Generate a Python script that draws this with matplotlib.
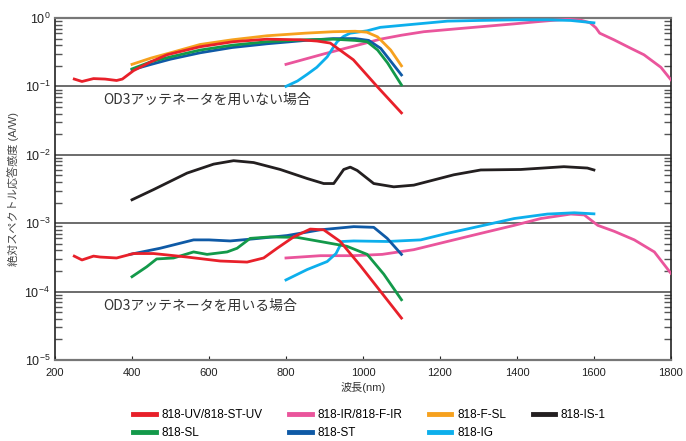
import matplotlib
matplotlib.use("Agg")
import matplotlib.pyplot as plt
from matplotlib.lines import Line2D
from matplotlib.ticker import LogLocator, NullFormatter

plt.rcParams['font.family'] = ['Liberation Sans', 'Noto Sans CJK JP', 'DejaVu Sans']
plt.rcParams['mathtext.default'] = 'regular'

# ---- data: without OD3 attenuator (A/W) ----
uv_x = [250, 270, 300, 330, 360, 375, 404, 450, 491, 577, 663, 751, 837, 881, 915, 975, 1038, 1100]
uv_y = [0.128, 0.118, 0.13, 0.128, 0.122, 0.128, 0.17, 0.23, 0.29, 0.38, 0.45, 0.49, 0.48, 0.46, 0.43, 0.245, 0.098, 0.041]

fsl_x = [400, 450, 500, 577, 660, 751, 850, 923, 980, 1010, 1038, 1072, 1100]
fsl_y = [0.21, 0.26, 0.31, 0.41, 0.48, 0.55, 0.60, 0.63, 0.64, 0.62, 0.53, 0.34, 0.20]

sl_x = [400, 450, 500, 577, 660, 751, 850, 923, 980, 1011, 1038, 1064, 1100]
sl_y = [0.18, 0.23, 0.27, 0.34, 0.40, 0.45, 0.48, 0.49, 0.47, 0.45, 0.34, 0.22, 0.105]

st_x = [400, 450, 500, 577, 660, 751, 850, 923, 980, 1015, 1046, 1100]
st_y = [0.175, 0.21, 0.25, 0.31, 0.37, 0.42, 0.47, 0.50, 0.50, 0.47, 0.36, 0.147]

ir_x = [800, 900, 1000, 1045, 1100, 1158, 1250, 1300, 1392, 1450, 1500, 1532, 1566, 1590, 1605, 1615, 1652, 1696, 1730, 1774, 1800]
ir_y = [0.21, 0.30, 0.42, 0.49, 0.56, 0.63, 0.70, 0.74, 0.82, 0.88, 0.93, 0.96, 0.93, 0.85, 0.72, 0.60, 0.48, 0.36, 0.29, 0.19, 0.125]

ig_x = [800, 830, 855, 880, 907, 920, 933, 950, 967, 1011, 1045, 1100, 1220, 1300, 1400, 1480, 1540, 1600]
ig_y = [0.10, 0.12, 0.15, 0.19, 0.27, 0.35, 0.45, 0.54, 0.60, 0.65, 0.73, 0.78, 0.90, 0.92, 0.94, 0.94, 0.92, 0.85]

is1_x = [400, 456, 543, 612, 664, 716, 785, 855, 898, 924, 937, 950, 967, 985, 1028, 1080, 1132, 1236, 1306, 1410, 1522, 1583, 1600]
is1_y = [0.0022, 0.0031, 0.0054, 0.0073, 0.0082, 0.0077, 0.0061, 0.0045, 0.0038, 0.0038, 0.0048, 0.0061, 0.0066, 0.0059, 0.0038, 0.0034, 0.0036, 0.0051, 0.0060, 0.0061, 0.0067, 0.0064, 0.0060]

# ---- data: with OD3 attenuator (A/W) ----
uv2_x = [250, 270, 300, 317, 360, 404, 456, 543, 629, 699, 742, 777, 820, 863, 898, 941, 993, 1046, 1100]
uv2_y = [3.3e-4, 2.9e-4, 3.3e-4, 3.2e-4, 3.1e-4, 3.6e-4, 3.6e-4, 3.2e-4, 2.8e-4, 2.7e-4, 3.1e-4, 4.3e-4, 6.3e-4, 8.2e-4, 8.0e-4, 5.4e-4, 2.4e-4, 1.0e-4, 4.1e-5]

st2_x = [395, 473, 560, 600, 655, 716, 803, 889, 976, 1028, 1063, 1100]
st2_y = [3.5e-4, 4.3e-4, 5.7e-4, 5.7e-4, 5.5e-4, 5.9e-4, 6.6e-4, 8.0e-4, 8.9e-4, 8.7e-4, 6.0e-4, 3.5e-4]

sl2_x = [400, 438, 464, 508, 560, 595, 647, 673, 707, 759, 829, 889, 958, 1011, 1054, 1100]
sl2_y = [1.65e-4, 2.3e-4, 3.0e-4, 3.1e-4, 3.8e-4, 3.5e-4, 3.8e-4, 4.3e-4, 6.0e-4, 6.3e-4, 6.2e-4, 5.4e-4, 4.6e-4, 3.5e-4, 1.8e-4, 7.6e-5]

ir2_x = [800, 890, 976, 1050, 1132, 1219, 1306, 1393, 1462, 1540, 1575, 1610, 1653, 1705, 1757, 1800]
ir2_y = [3.1e-4, 3.35e-4, 3.35e-4, 3.5e-4, 4.1e-4, 5.4e-4, 7.1e-4, 9.3e-4, 1.17e-3, 1.36e-3, 1.32e-3, 9.3e-4, 7.6e-4, 5.7e-4, 3.8e-4, 1.85e-4]

ig2_x = [800, 855, 907, 930, 946, 976, 1063, 1150, 1219, 1306, 1393, 1479, 1549, 1600]
ig2_y = [1.48e-4, 2.1e-4, 2.75e-4, 3.6e-4, 5.4e-4, 5.5e-4, 5.4e-4, 5.7e-4, 7.1e-4, 9.1e-4, 1.17e-3, 1.36e-3, 1.42e-3, 1.37e-3]

labels = ["818-UV/818-ST-UV", "818-IR/818-F-IR", "818-F-SL", "818-IS-1", "818-SL", "818-ST", "818-IG"]
x_ticks = [200, 400, 600, 800, 1000, 1200, 1400, 1600, 1800]

C_UV = "#e8202a"
C_IR = "#ea559c"
C_FSL = "#f6a11e"
C_IS = "#231f20"
C_SL = "#13994a"
C_ST = "#0f5aa6"
C_IG = "#0dafec"

fig = plt.figure(figsize=(6.86, 4.41), dpi=100)
ax = fig.add_axes([0.0802, 0.1837, 0.8978, 0.7755])

lw = 2.0
ax.plot(is1_x, is1_y, color=C_IS, lw=lw, zorder=3)
for xs, ys, c in [(ir_x, ir_y, C_IR), (ig_x, ig_y, C_IG), (fsl_x, fsl_y, C_FSL),
                  (st_x, st_y, C_ST), (sl_x, sl_y, C_SL), (uv_x, uv_y, C_UV),
                  (ir2_x, ir2_y, C_IR), (ig2_x, ig2_y, C_IG), (st2_x, st2_y, C_ST),
                  (sl2_x, sl2_y, C_SL), (uv2_x, uv2_y, C_UV)]:
    ax.plot(xs, ys, color=c, lw=lw, zorder=3)

ax.set_yscale('log')
ax.set_ylim(1e-5, 1)
ax.set_xlim(200, 1800)
ax.set_xticks(x_ticks)
ax.set_xticklabels([str(v) for v in x_ticks])
ax.yaxis.set_major_locator(LogLocator(base=10, numticks=10))
ax.yaxis.set_minor_locator(LogLocator(base=10, subs=range(2, 10), numticks=10))
ax.yaxis.set_minor_formatter(NullFormatter())

for y in [1e-1, 1e-2, 1e-3, 1e-4]:
    ax.axhline(y, color="#444444", lw=1.1, zorder=2)

for s in ['left', 'right']:
    ax.spines[s].set_color("#222222")
    ax.spines[s].set_linewidth(1.2)
for s in ['top', 'bottom']:
    ax.spines[s].set_color("#777777")
    ax.spines[s].set_linewidth(1.6)

ax.tick_params(axis='y', which='both', direction='in', left=True, right=True, labelsize=9, colors="#222222")
ax.tick_params(axis='y', which='major', length=0)
ax.tick_params(axis='y', which='minor', length=5, width=1.0, color="#555555")
ax.tick_params(axis='x', which='both', direction='in', length=3, labelsize=8, colors="#222222", pad=6)
ax.xaxis.set_minor_locator(plt.NullLocator())

ax.set_xlabel("波長(nm)", fontsize=8, color="#333333", labelpad=3)
ax.set_ylabel("絶対スペクトル応答感度 (A/W)", fontsize=8, color="#444444", labelpad=4)

ax.text(325, 0.063, "OD3アッテネータを用いない場合", fontsize=10, color="#333333",
        va='center', ha='left', family=['Noto Sans CJK JP', 'DejaVu Sans'], zorder=4)
ax.text(325, 6.2e-5, "OD3アッテネータを用いる場合", fontsize=10, color="#333333",
        va='center', ha='left', family=['Noto Sans CJK JP', 'DejaVu Sans'], zorder=4)

colors = [C_UV, C_IR, C_FSL, C_IS, C_SL, C_ST, C_IG]
handles = {lab: Line2D([], [], color=c, lw=3.5) for lab, c in zip(labels, colors)}
order = [labels[0], labels[4], labels[1], labels[5], labels[2], labels[6], labels[3]]
fig.legend([handles[l] for l in order], order, ncol=4, loc='upper left',
           bbox_to_anchor=(0.194, 0.072), frameon=False, fontsize=8.5,
           handlelength=1.9, handletextpad=0.5, columnspacing=2.25, labelspacing=0.5,
           borderaxespad=0, borderpad=0)

fig.savefig("out.png", dpi=100)
